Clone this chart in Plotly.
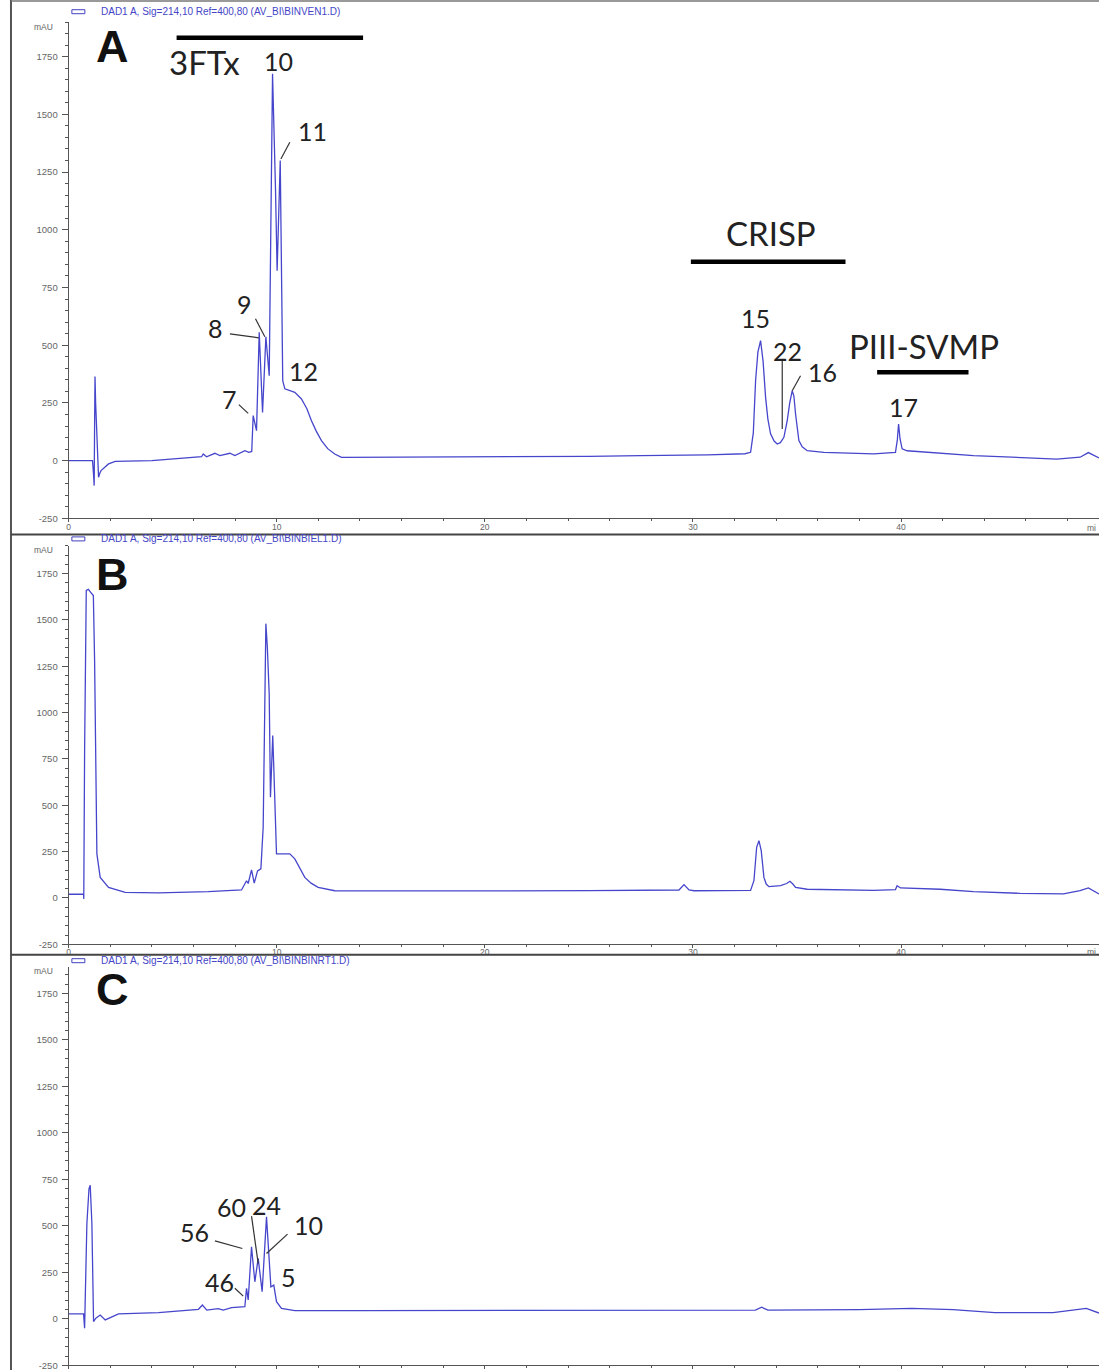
import plotly.graph_objects as go

# ---------------- data ----------------
a_time = [0, 1.15, 1.20, 1.23, 1.25, 1.27, 1.30, 1.36, 1.41, 1.44, 1.50, 1.56, 1.92, 2.24, 4.0, 5.43,
          6.39, 6.47, 6.63, 7.03, 7.27, 7.75, 7.99, 8.47, 8.66, 8.80, 8.87, 9.03, 9.16, 9.32, 9.48,
          9.64, 9.80, 9.94, 10.02, 10.17, 10.23, 10.29, 10.39, 10.87, 11.19, 11.45, 11.67, 11.9,
          12.15, 12.45, 12.79, 13.11, 16.0, 20.0, 25.0, 27.5, 30.7, 32.5, 32.77, 32.9, 33.01,
          33.12, 33.25, 33.37, 33.49, 33.6, 33.73, 33.9, 34.05, 34.2, 34.37, 34.53, 34.65, 34.77,
          34.85, 34.93, 35.09, 35.25, 35.49, 36.29, 38.69, 39.73, 39.82, 39.88, 39.95, 40.05,
          40.29, 43.48, 47.48, 48.6, 49.0, 49.51]
a_mau = [0, 0, -60, -108, 150, 364, 250, 87, -20, -72, -55, -43, -14, -3, 0, 12,
         17, 29, 17, 32, 22, 32, 22, 43, 36, 40, 195, 130, 556, 209, 537,
         368, 1676, 1184, 823, 1300, 722, 347, 311, 296, 267, 225, 173, 128,
         87, 52, 29, 14, 15, 16, 19, 22, 25, 30, 36, 120, 347,
         470, 520, 430, 274, 180, 116, 85, 72, 78, 101, 173, 250, 303,
         280, 202, 87, 60, 43, 36, 29, 36, 90, 159, 95, 51,
         43, 22, 7, 15, 35, 12]

b_time = [0, 0.72, 0.73, 0.77, 0.85, 0.95, 1.12, 1.19, 1.25, 1.31, 1.36, 1.52, 1.92, 2.72, 4.32,
          6.71, 8.31, 8.55, 8.63, 8.79, 8.92, 9.08, 9.24, 9.35, 9.40, 9.48, 9.55, 9.64, 9.70,
          9.81, 9.86, 9.99, 10.04, 10.63, 10.87, 11.1, 11.35, 11.65, 11.99, 12.79, 15.0, 20.0,
          25.0, 29.33, 29.57, 29.81, 30.05, 32.77, 32.93, 33.06, 33.17, 33.28, 33.41, 33.52,
          33.65, 34.21, 34.5, 34.66, 34.8, 34.93, 35.49, 38.69, 39.73, 39.81, 39.97, 41.88,
          43.48, 45.72, 47.8, 48.6, 49.0, 49.51]
b_mau = [20, 20, -5, 795, 1659, 1665, 1641, 1632, 1281, 741, 238, 111, 57, 30, 27,
         34, 43, 93, 78, 151, 80, 146, 157, 381, 886, 1480, 1353, 1101, 543,
         876, 705, 238, 238, 238, 211, 160, 111, 80, 57, 39, 38, 38,
         40, 43, 72, 43, 39, 41, 93, 273, 309, 255, 111, 75,
         61, 66, 78, 90, 75, 57, 47, 41, 45, 66, 54, 47,
         34, 25, 22, 39, 54, 22]

c_time = [0, 0.72, 0.77, 0.88, 0.98, 1.04, 1.12, 1.20, 1.31, 1.52, 1.76, 2.40, 4.32, 6.24, 6.43,
          6.64, 7.19, 7.43, 7.83, 8.47, 8.55, 8.63, 8.79, 8.95, 9.11, 9.30, 9.51, 9.72, 9.86,
          9.99, 10.23, 10.87, 14.07, 20.0, 30.0, 33.0, 33.3, 33.6, 38.0, 40.5, 42.5, 44.5,
          47.3, 48.9, 49.51]
c_mau = [27, 27, -50, 513, 700, 719, 513, -14, 4, 21, -5, 27, 34, 52, 75,
         48, 56, 48, 61, 66, 165, 102, 388, 200, 326, 147, 549, 173, 182,
         93, 57, 45, 45, 45, 46, 48, 63, 48, 50, 57, 50, 34,
         34, 57, 32]

y_ticks = [-250, 0, 250, 500, 750, 1000, 1250, 1500, 1750]
y_ticktext = ["-250", "0", "250", "500", "750", "1000", "1250", "1500", "1750"]
x_ticks = [0, 10, 20, 30, 40]
x_ticktext = ["0", "10", "20", "30", "40"]

headers = ["DAD1 A, Sig=214,10 Ref=400,80 (AV_BI\\BINVEN1.D)",
           "DAD1 A, Sig=214,10 Ref=400,80 (AV_BI\\BINBIEL1.D)",
           "DAD1 A, Sig=214,10 Ref=400,80 (AV_BI\\BINBINRT1.D)"]
panel_letters = ["A", "B", "C"]

# peak labels: (text, time, mAU)
a_peak_labels = [("10", 10.09, 1733), ("11", 11.72, 1430), ("9", 8.46, 680), ("8", 7.07, 576),
                 ("7", 7.74, 269), ("12", 11.29, 390), ("15", 33.01, 620), ("22", 34.53, 477),
                 ("16", 36.21, 383), ("17", 40.12, 231)]
a_group_labels = [("3FTx", 6.55, 1726), ("CRISP", 33.73, 988), ("PIII-SVMP", 41.08, 498)]
a_group_bars = [(5.19, 14.15, 1832), (29.9, 37.33, 862), (38.85, 43.24, 383)]
a_leaders = [(8.18, 243, 8.63, 205), (7.75, 549, 9.14, 532), (8.98, 615, 9.43, 537),
             (10.63, 1379, 10.20, 1307), (34.29, 433, 34.29, 137), (35.17, 368, 34.77, 303)]

c_peak_labels = [("56", 6.07, 468), ("60", 7.83, 602), ("24", 9.51, 612), ("10", 11.51, 504),
                 ("46", 7.27, 200), ("5", 10.55, 227)]
c_leaders = [(7.03, 420, 8.35, 379), (8.79, 553, 9.11, 299), (10.52, 456, 9.51, 352),
             (7.99, 165, 8.39, 123)]

# ---------------- figure ----------------
W, H_REF = 1099, 1370
H = 1376  # the page capture is squeezed slightly; compensate
LINE = "#4646cc"
AXC = "#555555"
LABEL_FONT = "Lato, 'Open Sans', sans-serif"


def px(x):
    return x / W


def py(y):
    return 1 - y / H_REF


fig = go.Figure()
for i, (t, v) in enumerate([(a_time, a_mau), (b_time, b_mau), (c_time, c_mau)]):
    sfx = "" if i == 0 else str(i + 1)
    fig.add_trace(go.Scatter(x=t, y=v, mode="lines", line=dict(color=LINE, width=1.3),
                             xaxis="x" + sfx, yaxis="y" + sfx, hoverinfo="skip"))

x_dom = [66.7 / W, 1.0]
y_doms = [[py(518), py(22)], [py(943.6), py(545.4)], [py(1364.5), py(966.7)]]
y_ranges = [[-250, 1900], [-250, 1900], [-250, 1890]]

layout = dict(width=W, height=H, margin=dict(l=0, r=0, t=0, b=0),
              paper_bgcolor="white", plot_bgcolor="white", showlegend=False)
for i in range(3):
    sfx = "" if i == 0 else str(i + 1)
    layout["xaxis" + sfx] = dict(domain=x_dom, range=[0, 49.51], anchor="y" + sfx,
                                 showline=True, linecolor=AXC, linewidth=1,
                                 ticks="outside", ticklen=3, tickcolor=AXC,
                                 tickvals=x_ticks, ticktext=x_ticktext,
                                 showticklabels=(i < 2), ticklabelstandoff=-3,
                                 minor=dict(dtick=2, ticklen=2, tickcolor=AXC, ticks="outside"),
                                 tickfont=dict(family="Liberation Sans, Arial", size=8.5, color="#666"),
                                 showgrid=False, zeroline=False)
    layout["yaxis" + sfx] = dict(domain=y_doms[i], range=y_ranges[i], anchor="x" + sfx,
                                 showline=True, linecolor=AXC, linewidth=1,
                                 ticks="outside", ticklen=6, tickcolor=AXC,
                                 tickvals=y_ticks, ticktext=y_ticktext,
                                 ticklabelstandoff=2,
                                 minor=dict(dtick=50, ticklen=3, tickcolor=AXC, ticks="outside"),
                                 tickfont=dict(family="Liberation Sans, Arial", size=9.5, color="#666"),
                                 showgrid=False, zeroline=False)
fig.update_layout(**layout)

ann = []
shapes = []

# frame lines
shapes.append(dict(type="line", xref="paper", yref="paper", x0=px(9), x1=px(9), y0=0, y1=1,
                   line=dict(color="#555", width=2)))
shapes.append(dict(type="line", xref="paper", yref="paper", x0=px(9), x1=1, y0=py(1), y1=py(1),
                   line=dict(color="#777", width=1.5)))
for ysep in [534, 954]:
    shapes.append(dict(type="line", xref="paper", yref="paper", x0=px(9), x1=1,
                       y0=py(ysep), y1=py(ysep), line=dict(color="#444", width=2)))

# headers, legend boxes, mAU, letters
header_y = [11.7, 538.5, 960.0]
letter_y = [46.5, 574, 989]
mau_y = [26.7, 550, 970.7]
for i in range(3):
    hy = header_y[i]
    shapes.append(dict(type="rect", xref="paper", yref="paper", x0=px(70), x1=px(83),
                       y0=py(hy + 2), y1=py(hy - 2), line=dict(color="#4040c0", width=1)))
    ann.append(dict(text=headers[i], xref="paper", yref="paper", x=px(96.7), y=py(hy),
                    xanchor="left", yanchor="middle", showarrow=False,
                    font=dict(family="Liberation Sans, Arial", size=10, color="#4545c8")))
    ann.append(dict(text="mAU", xref="paper", yref="paper", x=px(42), y=py(mau_y[i]),
                    xanchor="center", yanchor="middle", showarrow=False,
                    font=dict(family="Liberation Sans, Arial", size=8.5, color="#666")))
    ann.append(dict(text="<b>" + panel_letters[i] + "</b>", xref="paper", yref="paper",
                    x=px(111), y=py(letter_y[i]), xanchor="center", yanchor="middle",
                    showarrow=False,
                    font=dict(family="Liberation Sans, Arial", size=45, color="#111")))

# truncated "min" unit labels at the right edge
for yy in [527.7, 951.0]:
    ann.append(dict(text="mi", xref="paper", yref="paper", x=px(1098), y=py(yy),
                    xanchor="right", yanchor="middle", showarrow=False,
                    font=dict(family="Liberation Sans, Arial", size=8.5, color="#666")))

# panel A labels
for txt, t, v in a_peak_labels:
    ann.append(dict(text=txt, xref="x", yref="y", x=t, y=v, xanchor="center", yanchor="middle",
                    showarrow=False, font=dict(family=LABEL_FONT, size=25, color="#222")))
for txt, t, v in a_group_labels:
    ann.append(dict(text=txt, xref="x", yref="y", x=t, y=v, xanchor="center", yanchor="middle",
                    showarrow=False, font=dict(family=LABEL_FONT, size=33, color="#222")))
for t0, t1, v in a_group_bars:
    shapes.append(dict(type="line", xref="x", yref="y", x0=t0, x1=t1, y0=v, y1=v,
                       line=dict(color="#000", width=4.5)))
for t0, v0, t1, v1 in a_leaders:
    shapes.append(dict(type="line", xref="x", yref="y", x0=t0, x1=t1, y0=v0, y1=v1,
                       line=dict(color="#333", width=1.2)))

# panel C labels
for txt, t, v in c_peak_labels:
    ann.append(dict(text=txt, xref="x3", yref="y3", x=t, y=v, xanchor="center", yanchor="middle",
                    showarrow=False, font=dict(family=LABEL_FONT, size=25, color="#222")))
for t0, v0, t1, v1 in c_leaders:
    shapes.append(dict(type="line", xref="x3", yref="y3", x0=t0, x1=t1, y0=v0, y1=v1,
                       line=dict(color="#333", width=1.2)))

fig.update_layout(annotations=ann, shapes=shapes)
fig.write_html("out.html")
